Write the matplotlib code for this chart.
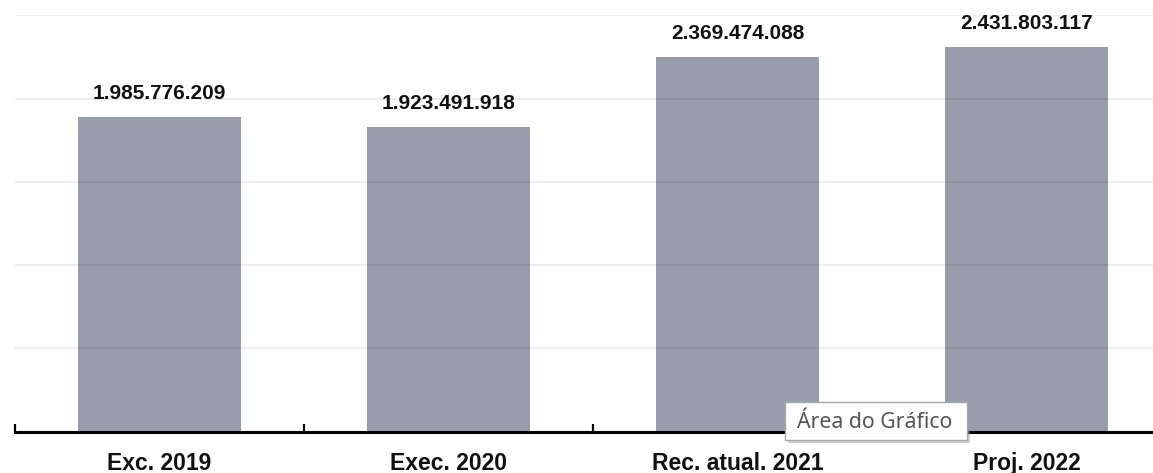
import matplotlib
matplotlib.use("Agg")
import matplotlib.pyplot as plt
from matplotlib import font_manager
from matplotlib.patches import Rectangle
import numpy as np

# Chart data
categories = ["Exc. 2019", "Exec. 2020", "Rec. atual. 2021", "Proj. 2022"]
values = [1985776209, 1923491918, 2369474088, 2431803117]
value_labels = ["1.985.776.209", "1.923.491.918", "2.369.474.088", "2.431.803.117"]
tooltip_text = "Área do Gráfico"

BAR_COLOR = "#979daa"
W, H = 1153, 473

installed = {f.name for f in font_manager.fontManager.ttflist}
cat_family = "Liberation Sans Narrow" if "Liberation Sans Narrow" in installed else "Liberation Sans"
cat_size = 19 if cat_family == "Liberation Sans Narrow" else 16.5

fig = plt.figure(figsize=(W / 100, H / 100), dpi=100)
fig.patch.set_facecolor("white")

# plot area: x from 15 px to right edge, axis line at y=431.5 px, top grid at 15.5 px
ax = fig.add_axes([15 / W, (H - 431.5) / H, (W - 15) / W, 416 / H])

x = np.arange(len(categories))
ymax = 2.63e9
ax.bar(x, values, width=0.567, color=BAR_COLOR, zorder=1)

# light gridlines drawn over the bars
ax.set_yticks(np.linspace(0, ymax, 6))
ax.yaxis.grid(True, color="black", alpha=0.085, linewidth=1.2, zorder=2)
ax.set_axisbelow(False)
ax.tick_params(axis="y", left=False, labelleft=False)

# boundary ticks (pointing up) and centered category labels
ax.set_xticks(np.arange(-0.5, len(categories), 1.0))
ax.set_xticklabels([])
ax.tick_params(axis="x", which="major", direction="in", length=6, width=1.6, color="black")
ax.set_xticks(x, minor=True)
ax.set_xticklabels(categories, minor=True, fontsize=cat_size, fontweight="bold",
                   family=cat_family, color="#111111")
ax.tick_params(axis="x", which="minor", length=0, pad=15)

# limits set after the ticks so they are not widened; the chart is cut at the right
ax.set_xlim(-0.5, -0.5 + (W - 15) / 289)
ax.set_ylim(0, ymax)

for s in ["left", "right", "top"]:
    ax.spines[s].set_visible(False)
ax.spines["bottom"].set_linewidth(2.2)
ax.spines["bottom"].set_zorder(3)

# value labels above bars
for xi, v, lab in zip(x, values, value_labels):
    ax.annotate(lab, (xi, v), xytext=(0, 13), textcoords="offset points",
                ha="center", va="baseline", fontsize=15, fontweight="bold",
                family="Liberation Sans", color="#111111", clip_on=False, zorder=4)

# tooltip box from the screenshot
bx, by, bw, bh = 785, 402, 182, 38
fig.patches.append(Rectangle(((bx + 3) / W, (H - by - bh - 3) / H), bw / W, bh / H,
                             transform=fig.transFigure, facecolor="#9a9a9a", alpha=0.45,
                             edgecolor="none", zorder=5))
fig.patches.append(Rectangle((bx / W, (H - by - bh) / H), bw / W, bh / H,
                             transform=fig.transFigure, facecolor="white",
                             edgecolor="#a8a8a8", linewidth=1.0, zorder=6))
fig.text(797 / W, (H - 428) / H, tooltip_text, fontsize=15.3, family=["Noto Sans", "DejaVu Sans"],
         color="#555555", ha="left", va="baseline", zorder=7)

fig.savefig("out.png", dpi=100, facecolor="white")
